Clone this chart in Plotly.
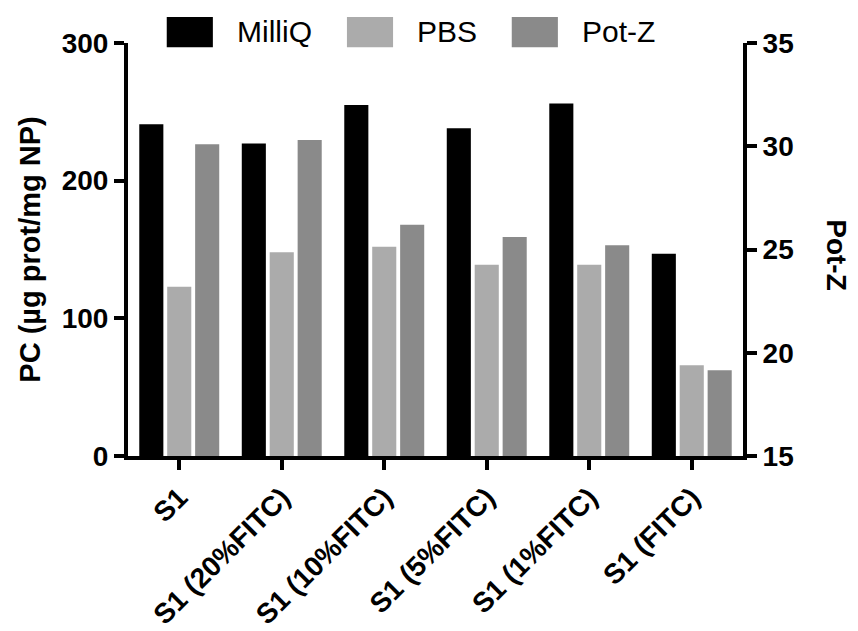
import plotly.graph_objects as go

# Samples on the category axis
categories = ["S1", "S1 (20%FITC)", "S1 (10%FITC)", "S1 (5%FITC)", "S1 (1%FITC)", "S1 (FITC)"]

# Protein corona (µg prot/mg NP), left axis
milliq = [241, 227, 255, 238, 256, 147]
pbs = [123, 148, 152, 139, 139, 66]

# Zeta potential, right axis
pot_z = [30.1, 30.3, 26.2, 25.6, 25.2, 19.15]

series_names = ["MilliQ", "PBS", "Pot-Z"]
series_colors = ["#000000", "#ababab", "#8a8a8a"]

FONT = "Liberation Sans, Arial, Helvetica, sans-serif"
BAR_W = 0.235
offsets = [-0.39, -0.1175, 0.155]

fig = go.Figure()
for name, vals, color, off, axis in zip(
    series_names, [milliq, pbs, pot_z], series_colors, offsets, ["y", "y", "y2"]
):
    fig.add_trace(go.Bar(
        x=categories, y=vals, name=name, yaxis=axis,
        marker=dict(color=color, line=dict(width=0)),
        width=BAR_W, offset=off, showlegend=False,
    ))

# Legend row above the plot: swatch + label per series
sw_x = [0.063, 0.356, 0.624]
for name, color, x0 in zip(series_names, series_colors, sw_x):
    fig.add_shape(type="rect", xref="paper", yref="paper",
                  x0=x0, x1=x0 + 0.075, y0=0.990, y1=1.063,
                  fillcolor=color, line=dict(width=0), layer="above")
    fig.add_annotation(xref="paper", yref="paper", x=x0 + 0.111, y=1.027,
                       text=name, showarrow=False, xanchor="left", yanchor="middle",
                       font=dict(family=FONT, size=30, color="black"))

# Right-hand axis title, reading top to bottom
fig.add_annotation(xref="paper", yref="paper", x=1.152, y=0.485,
                   text="Pot-Z", showarrow=False, textangle=90,
                   xanchor="center", yanchor="middle",
                   font=dict(family=FONT, size=28, color="black", weight="bold"))

axis_common = dict(
    showline=True, linewidth=4, linecolor="black", mirror=False,
    ticks="outside", ticklen=10, tickwidth=4, tickcolor="black",
    showgrid=False, zeroline=False, automargin=False,
    tickfont=dict(family=FONT, size=28, color="black", weight="bold"),
)

fig.update_layout(
    width=858, height=631,
    margin=dict(l=128, r=115, t=43, b=175),
    paper_bgcolor="white", plot_bgcolor="white",
    xaxis=dict(
        type="category", range=[-0.5, 5.5],
        showline=True, linewidth=4, linecolor="black",
        ticks="outside", ticklen=10, tickwidth=4, tickcolor="black",
        showgrid=False, zeroline=False, tickangle=-45, automargin=False,
        tickfont=dict(family=FONT, size=28, color="black", weight="bold"),
    ),
    yaxis=dict(
        range=[0, 300], tickvals=[0, 100, 200, 300],
        title=dict(text="PC (µg prot/mg NP)", standoff=14,
                   font=dict(family=FONT, size=29, color="black", weight="bold")),
        **axis_common,
    ),
    yaxis2=dict(
        range=[15, 35], overlaying="y", side="right",
        tickvals=[15, 20, 25, 30, 35],
        **axis_common,
    ),
)

fig.write_html("out.html")
